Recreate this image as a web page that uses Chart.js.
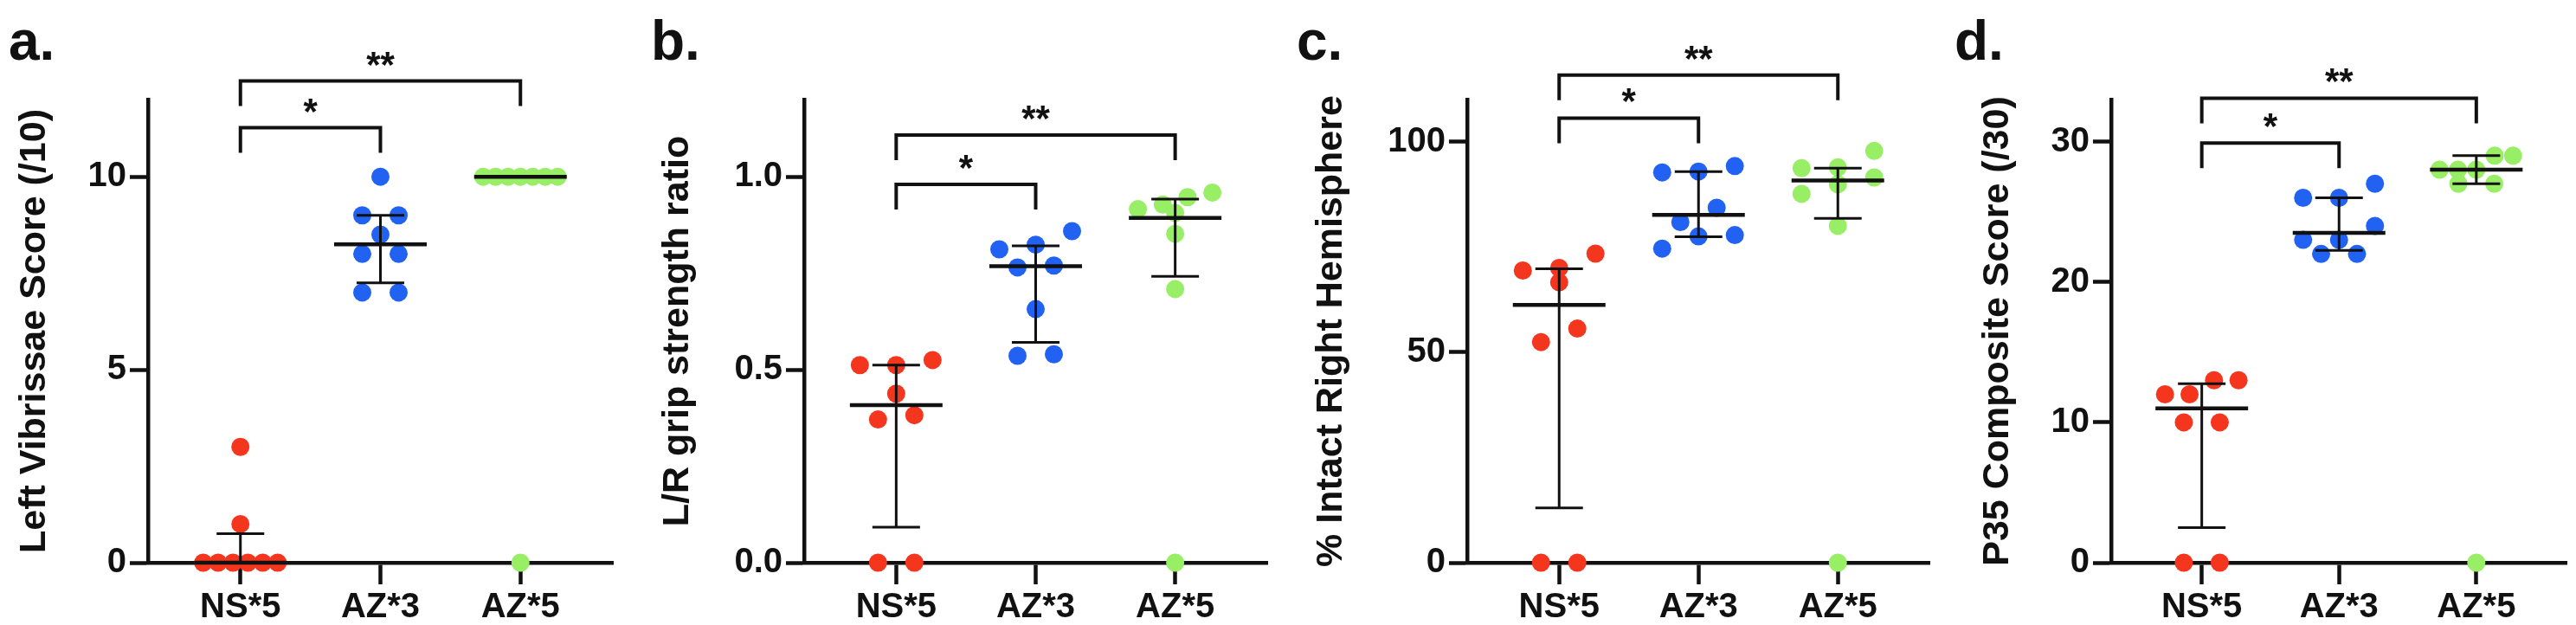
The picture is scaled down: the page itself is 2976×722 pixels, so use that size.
<!DOCTYPE html>
<html>
<head>
<meta charset="utf-8">
<script src="https://cdn.jsdelivr.net/npm/chart.js@4.4.1/dist/chart.umd.min.js"></script>
<style>
  body { margin: 0; background: #fff; width: 2976px; height: 722px; position: relative; overflow: hidden; font-family: "Liberation Sans", Arial, sans-serif; }
  canvas { position: absolute; top: 0; }
  .tag { position: absolute; top: 15px; font-weight: bold; font-size: 64px; line-height: 64px; color: #111; }
</style>
</head>
<body>
<div class="tag" style="left:10px">a.</div>
<div class="tag" style="left:752px">b.</div>
<div class="tag" style="left:1498px">c.</div>
<div class="tag" style="left:2258px">d.</div>
<canvas id="panelA" width="740" height="722" style="left:0px"></canvas>
<canvas id="panelB" width="740" height="722" style="left:740px"></canvas>
<canvas id="panelC" width="760" height="722" style="left:1480px"></canvas>
<canvas id="panelD" width="736" height="722" style="left:2240px"></canvas>
<script>
// groups and colours
var groups = ['NS*5', 'AZ*3', 'AZ*5'];
var groupColors = ['#F5361E', '#2262F2', '#98EE64'];

// a. Left vibrissae score
var vibNS = [0, 0, 0, 0, 0, 0, 1, 3];
var vibAZ3 = [10, 9, 9, 8.5, 8, 8, 7, 7];
var vibAZ5 = [10, 10, 10, 10, 10, 10, 10, 0];
var vibMedian = [0, 8.25, 10];
var vibQ1 = [0, 7.25, 10];
var vibQ3 = [0.75, 9, 10];
var vibTicks = [0, 5, 10];
var vibTickLabels = ['0', '5', '10'];
var vibSig = [11.27, 12.48];

// b. L/R grip strength ratio
var gripNS = [0.525, 0.512, 0.512, 0.438, 0.382, 0.371, 0, 0];
var gripAZ3 = [0.859, 0.824, 0.812, 0.770, 0.765, 0.657, 0.540, 0.536];
var gripAZ5 = [0.959, 0.947, 0.928, 0.916, 0.906, 0.852, 0.709, 0];
var gripMedian = [0.408, 0.768, 0.893];
var gripQ1 = [0.092, 0.571, 0.742];
var gripQ3 = [0.512, 0.821, 0.942];
var gripTicks = [0, 0.5, 1.0];
var gripTickLabels = ['0.0', '0.5', '1.0'];
var gripSig = [0.98, 1.108];

// c. % intact right hemisphere
var hemiNS = [73.4, 70.0, 69.4, 66.6, 55.6, 52.4, 0, 0];
var hemiAZ3 = [94.2, 92.9, 92.7, 84.3, 80.9, 77.8, 77.5, 74.6];
var hemiAZ5 = [97.8, 93.9, 93.7, 91.5, 89.9, 87.6, 80.0, 0];
var hemiMedian = [61.2, 82.6, 90.8];
var hemiQ1 = [13.0, 77.4, 81.8];
var hemiQ3 = [69.8, 92.9, 93.7];
var hemiTicks = [0, 50, 100];
var hemiTickLabels = ['0', '50', '100'];
var hemiSig = [105.6, 115.8];

// d. P35 composite score
var compNS = [13, 13, 12, 12, 10, 10, 0, 0];
var compAZ3 = [27, 26, 26, 24, 23, 23, 22, 22];
var compAZ5 = [29, 29, 28, 28, 28, 27, 27, 0];
var compMedian = [11, 23.5, 28];
var compQ1 = [2.5, 22.25, 27];
var compQ3 = [12.75, 26, 29];
var compTicks = [0, 10, 20, 30];
var compTickLabels = ['0', '10', '20', '30'];
var compSig = [29.9, 33.1];

var sigPairs = [[0, 1], [0, 2]];
var sigLabels = ['*', '**'];

// layout
var H = 722, PLOT_TOP = 115, PLOT_BOTTOM = 650;
var XMIN = -0.66, XMAX = 2.66;
var DOT_R = 10.5, SPREAD = 43, ROW_GAP = 21.5;
var FONT = '"Liberation Sans", Arial, sans-serif';
var INK = '#111';

// GraphPad-like scatter: points of a similar value share a row and are spread sideways
function swarmOffsets(vals, pxY, pxX) {
    var order = vals.map(function(v, i) { return i; }).sort(function(a, b) { return vals[b] - vals[a]; });
    var off = vals.map(function() { return 0; });
    var row = [];
    function flush() {
        var n = row.length;
        var step = 4 * DOT_R;
        if (n > 1) step = Math.min(step, 2 * SPREAD / (n - 1));
        row.sort(function(a, b) { return vals[a] - vals[b]; });
        row.forEach(function(k, j) { off[k] = (j - (n - 1) / 2) * step / pxX; });
        row = [];
    }
    order.forEach(function(k) {
        if (row.length && (vals[row[0]] - vals[k]) * pxY > ROW_GAP) flush();
        row.push(k);
    });
    flush();
    return off;
}

var medianPlugin = {
    id: 'medianIqr',
    afterDatasetsDraw: function(chart, args, opts) {
        var ctx = chart.ctx, xs = chart.scales.x, ys = chart.scales.y;
        ctx.save();
        ctx.strokeStyle = INK;
        ctx.lineCap = 'butt';
        opts.median.forEach(function(m, g) {
            var cx = xs.getPixelForValue(g);
            var yM = ys.getPixelForValue(m);
            var y1 = ys.getPixelForValue(opts.q1[g]);
            var y3 = ys.getPixelForValue(opts.q3[g]);
            ctx.lineWidth = 3;
            ctx.beginPath();
            ctx.moveTo(cx, y1); ctx.lineTo(cx, y3);
            ctx.moveTo(cx - 27.5, y1); ctx.lineTo(cx + 27.5, y1);
            ctx.moveTo(cx - 27.5, y3); ctx.lineTo(cx + 27.5, y3);
            ctx.stroke();
            ctx.lineWidth = 4.5;
            ctx.beginPath();
            ctx.moveTo(cx - 53.5, yM); ctx.lineTo(cx + 53.5, yM);
            ctx.stroke();
        });
        ctx.restore();
    }
};

var bracketPlugin = {
    id: 'brackets',
    afterDraw: function(chart, args, opts) {
        var ctx = chart.ctx, xs = chart.scales.x, ys = chart.scales.y;
        ctx.save();
        ctx.strokeStyle = INK;
        ctx.fillStyle = INK;
        ctx.lineWidth = 4;
        ctx.font = 'bold 42px ' + FONT;
        ctx.textAlign = 'center';
        ctx.textBaseline = 'alphabetic';
        sigPairs.forEach(function(p, k) {
            var x0 = xs.getPixelForValue(p[0]), x1 = xs.getPixelForValue(p[1]);
            var y = ys.getPixelForValue(opts.levels[k]);
            ctx.beginPath();
            ctx.moveTo(x0, y + 29); ctx.lineTo(x0, y); ctx.lineTo(x1, y); ctx.lineTo(x1, y + 29);
            ctx.stroke();
            ctx.fillText(sigLabels[k], (x0 + x1) / 2, y - 5);
        });
        ctx.restore();
    }
};

function drawPanel(id, p) {
    var canvas = document.getElementById(id);
    var pxX = (p.right - p.left) / (XMAX - XMIN);
    var pxY = (PLOT_BOTTOM - PLOT_TOP) / p.yMax;
    var datasets = p.series.map(function(vals, g) {
        var off = swarmOffsets(vals, pxY, pxX);
        return {
            data: vals.map(function(v, i) { return {x: g + off[i], y: v}; }),
            backgroundColor: groupColors[g],
            borderColor: groupColors[g],
            borderWidth: 0,
            pointRadius: DOT_R,
            pointHoverRadius: DOT_R,
            clip: false
        };
    });
    var tickFont = {family: FONT, size: 40, weight: 'bold'};
    new Chart(canvas, {
        type: 'scatter',
        data: {datasets: datasets},
        options: {
            responsive: false,
            animation: false,
            devicePixelRatio: 1,
            layout: {padding: {left: 0, top: PLOT_TOP, right: canvas.width - p.right, bottom: 0}},
            plugins: {
                legend: {display: false},
                tooltip: {enabled: false},
                medianIqr: {median: p.median, q1: p.q1, q3: p.q3},
                brackets: {levels: p.sig}
            },
            scales: {
                x: {
                    type: 'linear',
                    min: XMIN,
                    max: XMAX,
                    afterBuildTicks: function(s) { s.ticks = groups.map(function(g, i) { return {value: i}; }); },
                    afterFit: function(s) { s.height = H - PLOT_BOTTOM; },
                    ticks: {
                        callback: function(v) { return groups[Math.round(v)]; },
                        font: tickFont, color: INK, padding: 3, autoSkip: false, maxRotation: 0
                    },
                    grid: {drawOnChartArea: false, tickLength: 25, tickWidth: 4.5, tickColor: INK},
                    border: {display: true, width: 4.5, color: INK}
                },
                y: {
                    min: 0,
                    max: p.yMax,
                    afterBuildTicks: function(s) { s.ticks = p.ticks.map(function(v) { return {value: v}; }); },
                    afterFit: function(s) { s.width = p.left; },
                    ticks: {
                        callback: function(v) { return p.tickLabels[p.ticks.indexOf(v)]; },
                        font: tickFont, color: INK, padding: 4
                    },
                    title: {
                        display: true, text: p.title, color: INK,
                        font: {family: FONT, size: 43, weight: 'bold'},
                        padding: {top: p.titleX - 25.8, bottom: 0}
                    },
                    grid: {drawOnChartArea: false, tickLength: 21, tickWidth: 4.5, tickColor: INK},
                    border: {display: true, width: 4.5, color: INK}
                }
            }
        },
        plugins: [medianPlugin, bracketPlugin]
    });
}

drawPanel('panelA', {
    series: [vibNS, vibAZ3, vibAZ5], median: vibMedian, q1: vibQ1, q3: vibQ3,
    yMax: 12, ticks: vibTicks, tickLabels: vibTickLabels, sig: vibSig,
    title: 'Left Vibrissae Score (/10)', left: 171, right: 708, titleX: 40
});
drawPanel('panelB', {
    series: [gripNS, gripAZ3, gripAZ5], median: gripMedian, q1: gripQ1, q3: gripQ3,
    yMax: 1.2, ticks: gripTicks, tickLabels: gripTickLabels, sig: gripSig,
    title: 'L/R grip strength ratio', left: 189, right: 724, titleX: 43
});
drawPanel('panelC', {
    series: [hemiNS, hemiAZ3, hemiAZ5], median: hemiMedian, q1: hemiQ1, q3: hemiQ3,
    yMax: 110, ticks: hemiTicks, tickLabels: hemiTickLabels, sig: hemiSig,
    title: '% Intact Right Hemisphere', left: 215, right: 750, titleX: 58
});
drawPanel('panelD', {
    series: [compNS, compAZ3, compAZ5], median: compMedian, q1: compQ1, q3: compQ3,
    yMax: 33, ticks: compTicks, tickLabels: compTickLabels, sig: compSig,
    title: 'P35 Composite Score (/30)', left: 199, right: 732, titleX: 68
});
</script>
</body>
</html>
